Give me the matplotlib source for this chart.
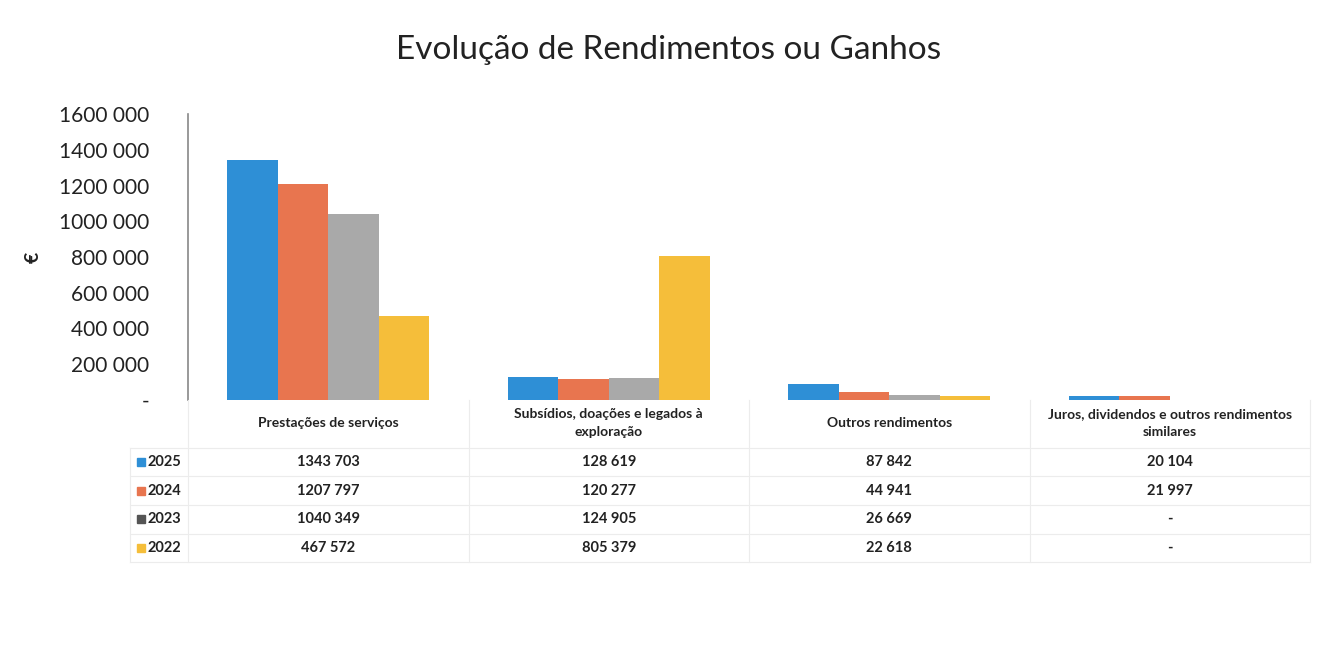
import matplotlib
matplotlib.use("Agg")
import matplotlib.pyplot as plt
import matplotlib.transforms as transforms
import numpy as np

plt.rcParams['font.family'] = ['Lato', 'DejaVu Sans']

categories = ["Prestações de serviços",
              "Subsídios, doações e legados à\nexploração",
              "Outros rendimentos",
              "Juros, dividendos e outros rendimentos\nsimilares"]
years = ["2025", "2024", "2023", "2022"]
values = {
    "2025": [1343703, 128619, 87842, 20104],
    "2024": [1207797, 120277, 44941, 21997],
    "2023": [1040349, 124905, 26669, 0],
    "2022": [467572, 805379, 22618, 0],
}
colors = {"2025": "#2e8fd6", "2024": "#e8754f", "2023": "#a9a9a9", "2022": "#f5be3a"}
key_colors = {"2025": "#2e8fd6", "2024": "#e8754f", "2023": "#555555", "2022": "#f5be3a"}


def fmt(v):
    if v == 0:
        return "-"
    v = int(round(v))
    if v >= 1000:
        return f"{v // 1000} {v % 1000:03d}"
    return str(v)


W, H = 1331, 661
fig = plt.figure(figsize=(W / 100, H / 100), dpi=100)
ax = fig.add_axes([188 / W, 1 - 400 / H, (1310 - 188) / W, (400 - 114) / H])

x = np.arange(len(categories))
w = 0.18
for j, yr in enumerate(years):
    ax.bar(x + (j - 1.5) * w, values[yr], w, color=colors[yr], label=yr)

ax.set_xlim(-0.5, 3.5)
ax.set_ylim(0, 1600000)
ax.set_yticks(np.arange(0, 1600001, 200000))
ax.set_yticklabels([fmt(t) for t in ax.get_yticks()], fontsize=15, color="#222222")
ax.tick_params(axis="y", length=0, pad=28)
ax.set_xticks([])
for s in ["top", "right", "bottom"]:
    ax.spines[s].set_visible(False)
ax.spines["left"].set_color("#888888")
ax.spines["left"].set_linewidth(1.2)

fig.text(669 / W, 1 - 50 / H, "Evolução de Rendimentos ou Ganhos",
         ha="center", va="center", fontsize=24, color="#222222")
fig.text(33 / W, 1 - 257 / H, "€", rotation=90, ha="center", va="center",
         fontsize=14, fontweight="bold", color="#222222")

# data table below the axis
trans = transforms.blended_transform_factory(ax.transData, fig.transFigure)
line_col = "#ececec"
header_y = 423
row_ys = [462, 491, 519, 548]
borders = [448, 476, 505, 534, 562]

for i, cat in enumerate(categories):
    fig.text(i, 1 - header_y / H, cat, transform=trans, ha="center", va="center",
             fontsize=10, fontweight="bold", color="#222222", linespacing=1.5)
    for r, yr in enumerate(years):
        fig.text(i, 1 - row_ys[r] / H, fmt(values[yr][i]), transform=trans,
                 ha="center", va="center", fontsize=10.5, fontweight="bold", color="#222222")

for r, yr in enumerate(years):
    yy = 1 - row_ys[r] / H
    fig.patches.append(plt.Rectangle((137 / W, yy - 4 / H), 8 / W, 8 / H,
                                     transform=fig.transFigure, color=key_colors[yr]))
    fig.text(147 / W, yy, yr, ha="left", va="center", fontsize=10.5,
             fontweight="bold", color="#222222")

for b in borders:
    fig.add_artist(plt.Line2D([130 / W, 1310 / W], [1 - b / H] * 2, color=line_col, lw=0.8))
fig.add_artist(plt.Line2D([130 / W, 130 / W], [1 - 448 / H, 1 - 562 / H], color=line_col, lw=0.8))
for i in range(len(categories) + 1):
    xv = i - 0.5
    fig.add_artist(plt.Line2D([xv, xv], [1 - 400 / H, 1 - 562 / H], transform=trans,
                              color=line_col, lw=0.8))

fig.savefig("out.png", dpi=100)
